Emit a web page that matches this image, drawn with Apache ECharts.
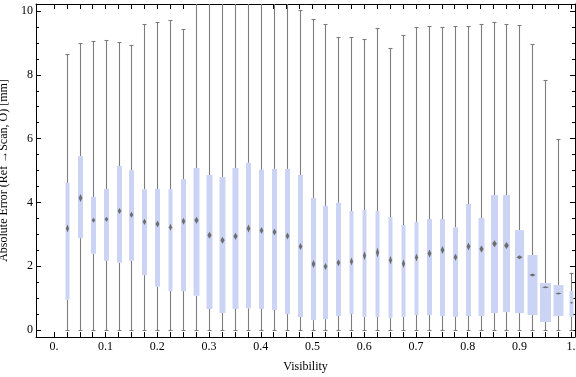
<!DOCTYPE html>
<html>
<head>
<meta charset="utf-8">
<script src="https://cdn.jsdelivr.net/npm/echarts@6/dist/echarts.min.js"></script>
<style>
  html, body { margin: 0; padding: 0; background: #fff; }
  #chart { width: 576px; height: 377px; }
</style>
</head>
<body>
<div id="chart"></div>
<script>
// visibility bins (box positions)
var positions = [0.025, 0.05, 0.075, 0.1, 0.125, 0.15, 0.175, 0.2, 0.225, 0.25,
                 0.275, 0.3, 0.325, 0.35, 0.375, 0.4, 0.425, 0.45, 0.475, 0.5,
                 0.525, 0.55, 0.575, 0.6, 0.625, 0.65, 0.675, 0.7, 0.725, 0.75,
                 0.775, 0.8, 0.825, 0.85, 0.875, 0.9, 0.925, 0.95, 0.975, 1.0];
var whiskerLow = [0, 0, 0, 0, 0, 0, 0, 0, 0, 0,
                  0, 0, 0, 0, 0, 0, 0, 0, 0, 0,
                  0, 0, 0, 0, 0, 0, 0, 0, 0, 0,
                  0, 0, 0, 0, 0, 0, 0, 0, 0, 0];
var q1 = [0.95, 2.88, 2.39, 2.17, 2.11, 2.17, 1.72, 1.36, 1.22, 1.22,
          1.07, 0.66, 0.53, 0.66, 0.68, 0.66, 0.63, 0.50, 0.41, 0.31,
          0.34, 0.44, 0.50, 0.41, 0.41, 0.38, 0.41, 0.47, 0.47, 0.44,
          0.41, 0.44, 0.44, 0.53, 0.56, 0.53, 0.47, 0.25, 0.44, 0.41];
var medians = [3.18, 4.14, 3.44, 3.47, 3.73, 3.61, 3.39, 3.32, 3.22, 3.41,
               3.44, 2.97, 2.81, 2.94, 3.18, 3.12, 3.07, 2.95, 2.62, 2.07,
               1.99, 2.11, 2.15, 2.33, 2.43, 2.19, 2.08, 2.27, 2.40, 2.51,
               2.28, 2.62, 2.54, 2.70, 2.65, 2.28, 1.72, 1.34, 1.14, 0.85];
var q3 = [4.61, 5.45, 4.17, 4.42, 5.14, 5.01, 4.41, 4.42, 4.42, 4.73,
          5.08, 4.86, 4.80, 5.08, 5.24, 5.02, 5.05, 5.05, 4.86, 4.14,
          3.89, 3.99, 3.73, 3.76, 3.73, 3.54, 3.29, 3.39, 3.48, 3.48,
          3.22, 3.95, 3.51, 4.23, 4.23, 3.13, 2.35, 1.47, 1.41, 1.22];
var whiskerHigh = [8.65, 8.99, 9.05, 9.08, 9.02, 8.93, 9.58, 9.65, 9.71, 9.43,
                   10.6, 10.6, 10.6, 10.6, 10.6, 10.6, 10.6, 10.6, 10.02, 9.74,
                   9.58, 9.18, 9.18, 9.11, 9.46, 8.84, 9.25, 9.49, 9.52, 9.49,
                   9.52, 9.52, 9.58, 9.65, 9.58, 9.55, 8.96, 7.83, 5.98, 1.79];
// box widths in visibility units, median notch half-height in mm
var boxWidths = [0.0077, 0.0097, 0.0097, 0.0097, 0.0097, 0.0097, 0.0097, 0.0097, 0.0077, 0.0097,
                 0.0116, 0.0116, 0.0116, 0.0116, 0.0097, 0.0097, 0.0097, 0.0097, 0.0097, 0.0097,
                 0.0097, 0.0097, 0.0077, 0.0077, 0.0077, 0.0077, 0.0077, 0.0077, 0.0097, 0.0097,
                 0.0097, 0.0097, 0.0116, 0.0135, 0.0135, 0.0174, 0.0193, 0.0213, 0.0193, 0.0077];
var medianNotch = [0.125, 0.125, 0.08, 0.08, 0.095, 0.095, 0.095, 0.11, 0.11, 0.11,
                   0.11, 0.11, 0.11, 0.11, 0.125, 0.11, 0.11, 0.11, 0.11, 0.125,
                   0.11, 0.11, 0.125, 0.14, 0.155, 0.14, 0.14, 0.125, 0.125, 0.125,
                   0.11, 0.125, 0.11, 0.11, 0.11, 0.063, 0.047, 0.031, 0.031, 0.031];

var xTicks = [0, 0.025, 0.05, 0.075, 0.1, 0.125, 0.15, 0.175, 0.2, 0.225, 0.25,
              0.275, 0.3, 0.325, 0.35, 0.375, 0.4, 0.425, 0.45, 0.475, 0.5,
              0.525, 0.55, 0.575, 0.6, 0.625, 0.65, 0.675, 0.7, 0.725, 0.75,
              0.775, 0.8, 0.825, 0.85, 0.875, 0.9, 0.925, 0.95, 0.975, 1.0];
var xLabels = [0, 0.1, 0.2, 0.3, 0.4, 0.5, 0.6, 0.7, 0.8, 0.9, 1.0];
var yLabels = [0, 2, 4, 6, 8, 10];
var yMinorTicks = [0.5, 1, 1.5, 2.5, 3, 3.5, 4.5, 5, 5.5, 6.5, 7, 7.5, 8.5, 9, 9.5];

var boxData = [];
for (var i = 0; i < positions.length; i++) {
    boxData.push([positions[i], whiskerLow[i], q1[i], medians[i], q3[i], whiskerHigh[i], boxWidths[i], medianNotch[i]]);
}

var font = 'Liberation Serif';
var X_MIN = -0.0346, X_MAX = 1.0075;
var Y_MIN = -0.22, Y_MAX = 10.22;

function renderBox(params, api) {
    var cs = params.coordSys;
    var top = cs.y, bottom = cs.y + cs.height;
    var x = api.value(0);
    var pLow = api.coord([x, api.value(1)]);
    var pQ1 = api.coord([x, api.value(2)]);
    var pMed = api.coord([x, api.value(3)]);
    var pQ3 = api.coord([x, api.value(4)]);
    var pHigh = api.coord([x, api.value(5)]);
    var w = api.size([api.value(6), 0])[0];
    var notch = api.size([0, api.value(7)])[1];
    var cx = Math.round(pMed[0]) + 0.5;
    var lineStyle = { stroke: '#7c7c7c', lineWidth: 1.1 };
    var children = [];
    var hiY = Math.max(pHigh[1], top);
    var loY = Math.min(pLow[1], bottom);
    children.push({ type: 'line', shape: { x1: cx, y1: pQ3[1], x2: cx, y2: hiY }, style: lineStyle });
    children.push({ type: 'line', shape: { x1: cx, y1: pQ1[1], x2: cx, y2: loY }, style: lineStyle });
    if (pHigh[1] >= top) {
        var hy = Math.round(pHigh[1]) + 0.5;
        children.push({ type: 'line', shape: { x1: cx - 2, y1: hy, x2: cx + 2, y2: hy }, style: lineStyle });
    }
    var ly = Math.round(pLow[1]) + 0.5;
    children.push({ type: 'line', shape: { x1: cx - 2, y1: ly, x2: cx + 2, y2: ly }, style: lineStyle });
    children.push({
        type: 'rect',
        shape: { x: cx - w / 2, y: pQ3[1], width: w, height: pQ1[1] - pQ3[1] },
        style: { fill: '#ccd4f6' }
    });
    var dw = w * 0.55 + 1;
    var nh = Math.max(notch, 1);
    children.push({
        type: 'polygon',
        shape: { points: [[cx, pMed[1] - nh], [cx + dw / 2, pMed[1]], [cx, pMed[1] + nh], [cx - dw / 2, pMed[1]]] },
        style: { fill: '#6e6e6e' }
    });
    return { type: 'group', children: children };
}

var frameLine = { show: true, onZero: false, lineStyle: { color: '#000', width: 1 } };

var option = {
    animation: false,
    backgroundColor: '#fff',
    grid: { left: 36, top: 4, width: 539, height: 333, containLabel: false, outerBoundsMode: 'none' },
    xAxis: [
        {
            type: 'value', position: 'bottom', min: X_MIN, max: X_MAX,
            name: 'Visibility', nameLocation: 'middle', nameGap: 24,
            nameTextStyle: { fontFamily: font, fontSize: 12, color: '#000' },
            axisLine: frameLine,
            axisTick: { show: true, inside: true, length: 5, customValues: xTicks, lineStyle: { color: '#000' } },
            axisLabel: {
                customValues: xLabels, margin: 4,
                fontFamily: font, fontSize: 12, color: '#000',
                formatter: function (v) {
                    if (Math.abs(v) < 1e-9) return '0.';
                    if (Math.abs(v - 1) < 1e-9) return '1.';
                    return v.toFixed(1);
                }
            },
            splitLine: { show: false }
        },
        {
            type: 'value', position: 'top', min: X_MIN, max: X_MAX,
            axisLine: frameLine,
            axisTick: { show: true, inside: true, length: 5, customValues: xTicks, lineStyle: { color: '#000' } },
            axisLabel: { show: false },
            splitLine: { show: false }
        }
    ],
    yAxis: [
        {
            type: 'value', position: 'left', min: Y_MIN, max: Y_MAX,
            name: 'Absolute Error (Ref \u2192Scan, O) [mm]', nameLocation: 'middle', nameGap: 20,
            nameTextStyle: { fontFamily: font, fontSize: 12, color: '#000' },
            axisLine: frameLine,
            axisTick: { show: true, inside: true, length: 5, customValues: yLabels, lineStyle: { color: '#000' } },
            axisLabel: { customValues: yLabels, margin: 3, fontFamily: font, fontSize: 12, color: '#000' },
            splitLine: { show: false }
        },
        {
            type: 'value', position: 'left', min: Y_MIN, max: Y_MAX,
            axisLine: { show: false, onZero: false },
            axisTick: { show: true, inside: true, length: 3, customValues: yMinorTicks, lineStyle: { color: '#000' } },
            axisLabel: { show: false },
            splitLine: { show: false }
        },
        {
            type: 'value', position: 'right', min: Y_MIN, max: Y_MAX,
            axisLine: frameLine,
            axisTick: { show: true, inside: true, length: 5, customValues: yLabels, lineStyle: { color: '#000' } },
            axisLabel: { show: false },
            splitLine: { show: false }
        },
        {
            type: 'value', position: 'right', min: Y_MIN, max: Y_MAX,
            axisLine: { show: false, onZero: false },
            axisTick: { show: true, inside: true, length: 3, customValues: yMinorTicks, lineStyle: { color: '#000' } },
            axisLabel: { show: false },
            splitLine: { show: false }
        }
    ],
    series: [
        {
            type: 'custom',
            xAxisIndex: 0,
            yAxisIndex: 0,
            clip: true,
            renderItem: renderBox,
            encode: { x: 0, y: [1, 2, 3, 4, 5] },
            data: boxData
        }
    ]
};

var myChart = echarts.init(document.getElementById('chart'));
myChart.setOption(option);
</script>
</body>
</html>
